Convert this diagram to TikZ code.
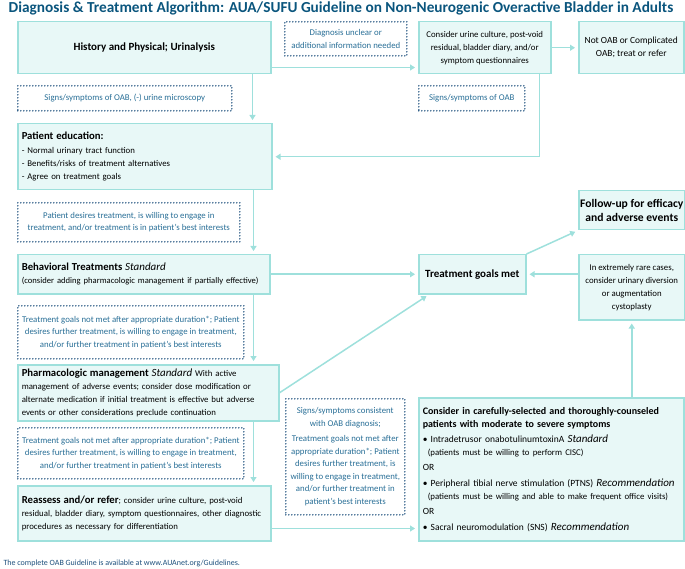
\documentclass[tikz,border=0pt]{standalone}
\usepackage{fontspec}
\setmainfont{Carlito}
\usetikzlibrary{arrows.meta}
\definecolor{oabteal}{RGB}{158,224,220}
\definecolor{oabfill}{RGB}{232,248,247}
\definecolor{oabnavy}{RGB}{30,80,125}
\definecolor{oabtext}{RGB}{40,110,150}
\definecolor{oabtitle}{RGB}{10,85,125}
\newcommand{\oabgrade}[1]{{\fontsize{11}{13}\selectfont\textit{#1}}}
\newcommand{\oabhead}[1]{{\fontsize{10.7}{13}\selectfont\bfseries #1}}
\newcommand{\oabsmall}[1]{{\fontsize{8.8}{13}\selectfont #1}}

\begin{document}
\begin{tikzpicture}[x=1pt,y=-1pt]

%
% Styles
%
\tikzstyle{stage} = [rectangle,draw=oabteal,fill=oabfill,line width=1.5pt,anchor=north west,inner sep=4pt,font=\fontsize{8.8}{13}\selectfont]
\tikzstyle{cond} = [rectangle,draw=oabnavy,line cap=round,dash pattern=on 0pt off 3pt,line width=1.6pt,anchor=north west,inner sep=2pt,text=oabtext,align=center,font=\fontsize{8.8}{12.5}\selectfont]
\tikzstyle{flow} = [draw=oabteal,line width=1.5pt,-{Triangle[width=6pt,length=5pt]},shorten >=3pt]
\tikzstyle{head} = [font=\bfseries\fontsize{11}{13}\selectfont]

\useasboundingbox (0,0) rectangle (685,569);

\node[font=\bfseries\fontsize{15.3}{17}\selectfont,text=oabtitle] (title) at (341,8) {Diagnosis \& Treatment Algorithm: AUA/SUFU Guideline on Non-Neurogenic Overactive Bladder in Adults};

% left column
\node[stage,head,minimum width=253pt,minimum height=52pt] (hist) at (17,21) {History and Physical; Urinalysis};
\node[cond,minimum width=214pt,minimum height=25pt] (sign1) at (17,85) {Signs/symptoms of OAB, (-) urine microscopy};
\node[stage,minimum width=254pt,minimum height=66pt,text width=246pt,align=left] (edu) at (17,123)
  {\oabhead{Patient education:}\\[1pt] - Normal urinary tract function\\ - Benefits/risks of treatment alternatives\\ - Agree on treatment goals};
\node[cond,minimum width=222pt,minimum height=39pt] (wish) at (17,202)
  {Patient desires treatment, is willing to engage in\\ treatment, and/or treatment is in patient’s best interests};
\node[stage,minimum width=252pt,minimum height=39pt,text width=244pt,align=left] (behav) at (17,254)
  {\oabhead{Behavioral Treatments} \oabgrade{Standard}\\ {\fontsize{8.6}{13}\selectfont (consider adding pharmacologic management if partially effective)}};
\node[cond,minimum width=226pt,minimum height=53pt] (fail1) at (17,305)
  {Treatment goals not met after appropriate duration*; Patient\\ desires further treatment, is willing to engage in treatment,\\ and/or further treatment in patient’s best interests};
\node[stage,minimum width=261pt,minimum height=56pt,text width=253pt,align=left] (pharm) at (17,364)
  {\oabhead{Pharmacologic management} \oabgrade{Standard} With active\\ management of adverse events; consider dose modification or\\ alternate medication if initial treatment is effective but adverse\\ events or other considerations preclude continuation};
\node[cond,minimum width=226pt,minimum height=51pt] (fail2) at (17,427)
  {Treatment goals not met after appropriate duration*; Patient\\ desires further treatment, is willing to engage in treatment,\\ and/or further treatment in patient’s best interests};
\node[stage,minimum width=253pt,minimum height=55pt,text width=245pt,align=left] (reas) at (17,485)
  {\oabhead{Reassess and/or refer}; consider urine culture, post-void\\ residual, bladder diary, symptom questionnaires, other diagnostic\\ procedures as necessary for differentiation};

% middle and right
\node[cond,minimum width=122pt,minimum height=34pt] (diag) at (284,21) {Diagnosis unclear or\\ additional information needed};
\node[stage,minimum width=132pt,minimum height=52pt,align=center] (cons) at (418,21)
  {Consider urine culture, post-void\\ residual, bladder diary, and/or\\ symptom questionnaires};
\node[stage,minimum width=105pt,minimum height=52pt,align=center,font=\fontsize{9.4}{13}\selectfont] (notoab) at (578,21) {Not OAB or Complicated\\ OAB; treat or refer};
\node[cond,minimum width=106pt,minimum height=25pt] (sign2) at (418,85) {Signs/symptoms of OAB};
\node[stage,head,minimum width=107pt,minimum height=39pt] (tgm) at (418,254) {Treatment goals met};
\node[stage,minimum width=106pt,minimum height=39pt,align=center,inner sep=1pt,font=\bfseries\fontsize{11.6}{13.5}\selectfont] (follow) at (578,190) {Follow-up for efficacy\\ and adverse events};
\node[stage,minimum width=106pt,minimum height=65pt,align=center] (rare) at (578,254)
  {In extremely rare cases,\\ consider urinary diversion\\ or augmentation\\ cystoplasty};
\node[cond,minimum width=119pt,minimum height=116pt] (sign3) at (285,398)
  {Signs/symptoms consistent\\ with OAB diagnosis;\\[3pt] Treatment goals not met after\\ appropriate duration*; Patient\\ desires further treatment, is\\ willing to engage in treatment,\\ and/or further treatment in\\ patient’s best interests};
\node[stage,minimum width=265pt,minimum height=143pt,text width=257pt,align=left,font=\fontsize{9.5}{13}\selectfont] (cons2) at (418,397)
  {{\fontsize{10}{13}\selectfont\bfseries Consider in carefully-selected and thoroughly-counseled\\ patients with moderate to severe symptoms}\\[2pt]
   \textbullet\ Intradetrusor onabotulinumtoxinA \oabgrade{Standard}\\
   \hspace*{5pt}\oabsmall{(patients must be willing to perform CISC)}\\[2.5pt]
   OR\\[2.5pt]
   \textbullet\ Peripheral tibial nerve stimulation (PTNS) \oabgrade{Recommendation}\\
   \hspace*{5pt}\oabsmall{(patients must be willing and able to make frequent office visits)}\\[2.5pt]
   OR\\[2.5pt]
   \textbullet\ Sacral neuromodulation (SNS) \oabgrade{Recommendation}};

\node[anchor=west,font=\fontsize{8}{9}\selectfont,text=oabnavy] (foot) at (0,563) {The complete OAB Guideline is available at www.AUAnet.org/Guidelines.};

% connectors
\draw[flow] ([yshift=7pt]hist.south east) -- ([yshift=7pt]cons.south west);
\draw[flow] (cons.east) -- (notoab.west);
\draw[flow] ([xshift=-19pt]hist.south east) -- ([xshift=-19pt]hist.south east |- edu.north);
\draw[flow] ([xshift=-12pt]cons.south east) |- (edu.east);
\draw[flow] ([xshift=-19pt]edu.south east) -- ([xshift=-19pt]edu.south east |- behav.north);
\draw[flow] (behav.east) -- (tgm.west);
\draw[flow] ([xshift=-17pt]behav.south east) -- ([xshift=-17pt]behav.south east |- pharm.north);
\draw[flow] (pharm.east) -- ([xshift=11pt]tgm.south west);
\draw[flow] ([xshift=-26pt]pharm.south east) -- ([xshift=-26pt]pharm.south east |- reas.north);
\draw[flow] ([yshift=13pt]reas.south east) -- ([yshift=13pt]cons2.south west);
\draw[flow] (tgm.north east) -- (follow.south west);
\draw[flow] (rare.west |- tgm.east) -- (tgm.east);
\draw[flow] (cons2.north -| rare.south) -- (rare.south);

\end{tikzpicture}
\end{document}
